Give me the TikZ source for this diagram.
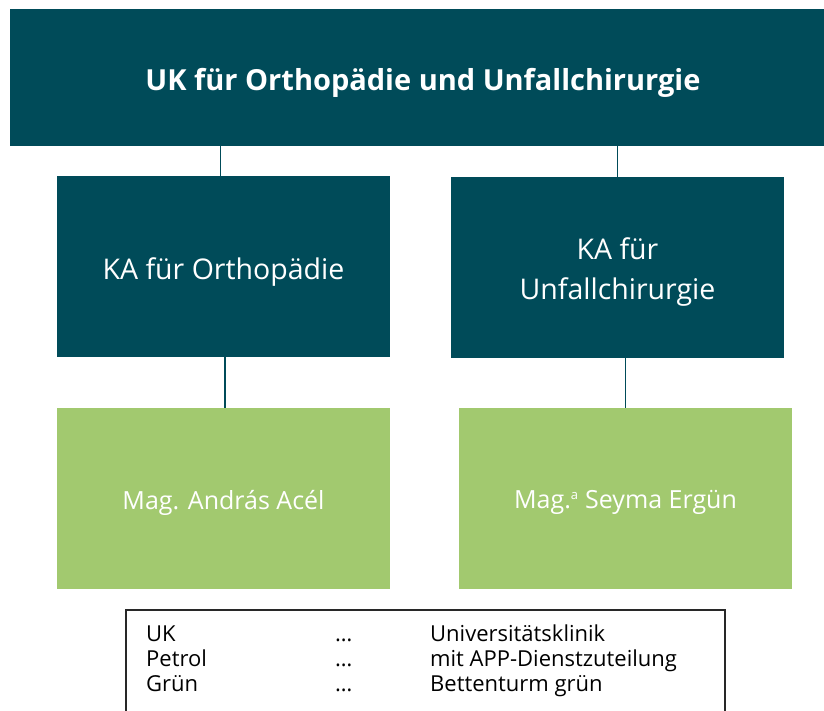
\documentclass[tikz,border=0pt]{standalone}
\usepackage{fontspec}
\setmainfont{Open Sans}
\definecolor{petrol}{RGB}{0,75,89}
\definecolor{gruen}{RGB}{162,201,111}
\definecolor{rahmen}{RGB}{40,40,40}
\begin{document}
\begin{tikzpicture}[x=1pt,y=-1pt,
  petrolbox/.style={fill=petrol,draw=none,minimum width=333pt,minimum height=181pt,inner sep=0pt},
  gruenbox/.style={fill=gruen,draw=none,minimum width=333pt,minimum height=181pt,inner sep=0pt},
  petroltext/.style={text=white,inner sep=0pt,align=center,font=\fontsize{28.5}{40.5}\selectfont},
  gruentext/.style={text=white,inner sep=0pt,align=center,font=\fontsize{25}{30}\selectfont},
  conn/.style={draw=petrol,line width=1.3pt},
  legtext/.style={anchor=base west,inner sep=0pt,font=\fontsize{22}{25}\selectfont}]
\useasboundingbox (0,0) rectangle (824,711);
\node[fill=petrol,minimum width=814pt,minimum height=136.7pt,inner sep=0pt] (top) at (417,77.3) {};
\node[petrolbox] (m1) at (223.5,266.5) {};
\node[petrolbox] (m2) at (617.5,267.5) {};
\node[gruenbox] (g1) at (223.5,498.5) {};
\node[gruenbox] (g2) at (625.5,498.5) {};
\node[text=white,inner sep=0pt,font=\fontsize{29}{34}\selectfont\bfseries] (topt) at ([xshift=6pt,yshift=-6pt]top.center) {UK für Orthopädie und Unfallchirurgie};
\node[petroltext] (m1t) at ([yshift=-5.5pt]m1.center) {KA für Orthopädie};
\node[petroltext] (m2t) at ([yshift=-4.5pt]m2.center) {KA für\\Unfallchirurgie};
\node[gruentext] (g1t) at ([yshift=-4pt]g1.center) {Mag. András Acél};
\node[gruentext] (g2t) at ([yshift=-4pt]g2.center) {Mag.\textsuperscript{\fontsize{13}{14}\selectfont a} Seyma Ergün};
\draw[conn] ([xshift=-2.8pt]m1.north) -- ([xshift=-2.8pt]m1.north |- top.south);
\draw[conn] ([xshift=-0.2pt]m2.north) -- ([xshift=-0.2pt]m2.north |- top.south);
\draw[conn] ([xshift=1.5pt]g1.north) -- ([xshift=1.5pt]g1.north |- m1.south);
\draw[conn] ([xshift=-0.2pt]g2.north) -- ([xshift=-0.2pt]g2.north |- m2.south);
\node[draw=rahmen,line width=1.4pt,minimum width=599pt,minimum height=130pt,inner sep=0pt] (leg) at (425.5,675) {};
\node[legtext] (l1a) at (146,641) {UK};
\node[legtext] (l1b) at (335,641) {…};
\node[legtext] (l1c) at (430,641) {Universitätsklinik};
\node[legtext] (l2a) at (146,666) {Petrol};
\node[legtext] (l2b) at (335,666) {…};
\node[legtext] (l2c) at (430,666) {mit APP-Dienstzuteilung};
\node[legtext] (l3a) at (146,691) {Grün};
\node[legtext] (l3b) at (335,691) {…};
\node[legtext] (l3c) at (430,691) {Bettenturm grün};
\end{tikzpicture}
\end{document}
